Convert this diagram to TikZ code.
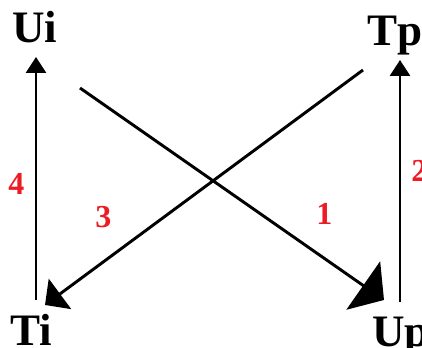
\documentclass[tikz,border=0pt]{standalone}
\usepackage{fontspec}
\setmainfont{Liberation Serif}
\usetikzlibrary{arrows.meta}
\definecolor{numred}{RGB}{236,28,36}

\begin{document}
\begin{tikzpicture}[
  x=0.75pt, y=-0.75pt,
  every node/.style={inner sep=0pt, anchor=base west},
  state/.style={font=\fontsize{33.75}{40}\selectfont\bfseries, text=black},
  num/.style={font=\fontsize{24}{28}\selectfont\bfseries, text=numred},
  link/.style={line width=2.2pt, draw=black},
  uparrow/.style={link, -{Triangle[length=12pt, width=15pt]}},
  crossarrow/.style={link, -{Triangle[length=14pt, width=28pt]}},
  bigarrow/.style={link, -{Triangle[length=19pt, width=44pt]}}
]
\useasboundingbox (0,0) rectangle (422,348);

% === STATES ===
\node[state] (ui) at (12,43)  {Ui};
\node[state] (tp) at (367,46) {Tp};
\node[state] (ti) at (10,346) {Ti};
\node[state] (up) at (372,347) {Up};

% arrow ends
\coordinate (ti-top)  at (36,300);
\coordinate (ui-foot) at (36,57);
\coordinate (up-top)  at (400,302);
\coordinate (tp-foot) at (400,60);
\coordinate (tp-out)  at (363,70);
\coordinate (ti-in)   at (45,305);
\coordinate (ui-out)  at (80,88);
\coordinate (up-in)   at (384,300);

% === CONNECTORS ===
\draw[uparrow]    (ti-top) -- (ui-foot);
\draw[uparrow]    (up-top) -- (tp-foot);
\draw[crossarrow] (tp-out) -- (ti-in);
\draw[bigarrow]   (ui-out) -- (up-in);

% === NUMBERS ===
\node[num] (n4) at (8,195)   {4};
\node[num] (n3) at (95,228)  {3};
\node[num] (n1) at (316,225) {1};
\node[num] (n2) at (411,182) {2};

\end{tikzpicture}
\end{document}
